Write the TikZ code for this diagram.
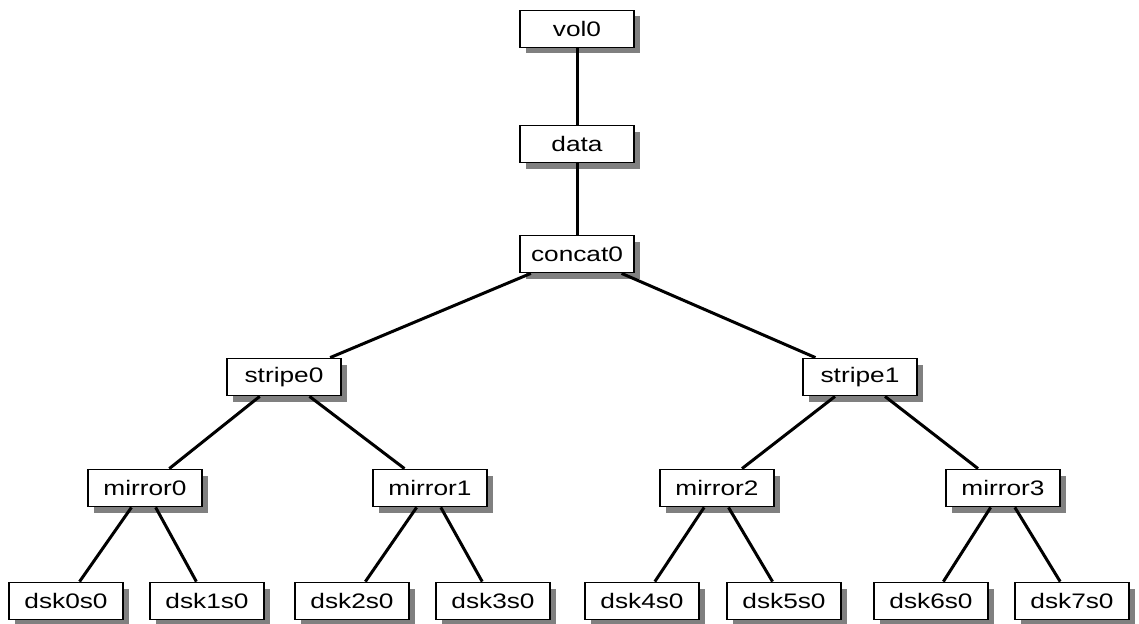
\documentclass[tikz,border=0pt]{standalone}
\usepackage{fontspec}
\setmainfont{Liberation Sans}
\usetikzlibrary{shadows}
\tikzset{
  box/.style={draw=black, line width=1.8pt, fill=white, rectangle,
    minimum width=114pt, minimum height=37pt, inner sep=0pt,
    font=\fontsize{21}{23}\selectfont,
    drop shadow={shadow xshift=6pt, shadow yshift=-6pt, fill=black!50, opacity=1}},
  link/.style={draw=black, line width=3pt}
}
\newcommand{\lbl}[1]{\scalebox{1.25}[1]{#1}}
\begin{document}
\begin{tikzpicture}[x=1pt,y=-1pt]
\useasboundingbox (0,0) rectangle (1139,623);
\node[box] (vol0) at (577,29) {\lbl{vol0}};
\node[box] (data) at (577,144) {\lbl{data}};
\node[box] (concat0) at (577,254) {\lbl{concat0}};
\node[box] (stripe0) at (284,377) {\lbl{stripe0}};
\node[box] (stripe1) at (860,377) {\lbl{stripe1}};
\node[box] (mirror0) at (145,488) {\lbl{mirror0}};
\node[box] (mirror1) at (430,488) {\lbl{mirror1}};
\node[box] (mirror2) at (717,488) {\lbl{mirror2}};
\node[box] (mirror3) at (1003,488) {\lbl{mirror3}};
\node[box] (dsk0s0) at (66,601) {\lbl{dsk0s0}};
\node[box] (dsk1s0) at (207,601) {\lbl{dsk1s0}};
\node[box] (dsk2s0) at (352,601) {\lbl{dsk2s0}};
\node[box] (dsk3s0) at (493,601) {\lbl{dsk3s0}};
\node[box] (dsk4s0) at (642,601) {\lbl{dsk4s0}};
\node[box] (dsk5s0) at (784,601) {\lbl{dsk5s0}};
\node[box] (dsk6s0) at (931,601) {\lbl{dsk6s0}};
\node[box] (dsk7s0) at (1072,601) {\lbl{dsk7s0}};
\begin{scope}[link]
\draw (vol0) -- (data);
\draw (data) -- (concat0);
\draw (concat0) -- (stripe0);
\draw (concat0) -- (stripe1);
\draw (stripe0) -- (mirror0);
\draw (stripe0) -- (mirror1);
\draw (stripe1) -- (mirror2);
\draw (stripe1) -- (mirror3);
\draw (mirror0) -- (dsk0s0);
\draw (mirror0) -- (dsk1s0);
\draw (mirror1) -- (dsk2s0);
\draw (mirror1) -- (dsk3s0);
\draw (mirror2) -- (dsk4s0);
\draw (mirror2) -- (dsk5s0);
\draw (mirror3) -- (dsk6s0);
\draw (mirror3) -- (dsk7s0);
\end{scope}
\end{tikzpicture}
\end{document}
